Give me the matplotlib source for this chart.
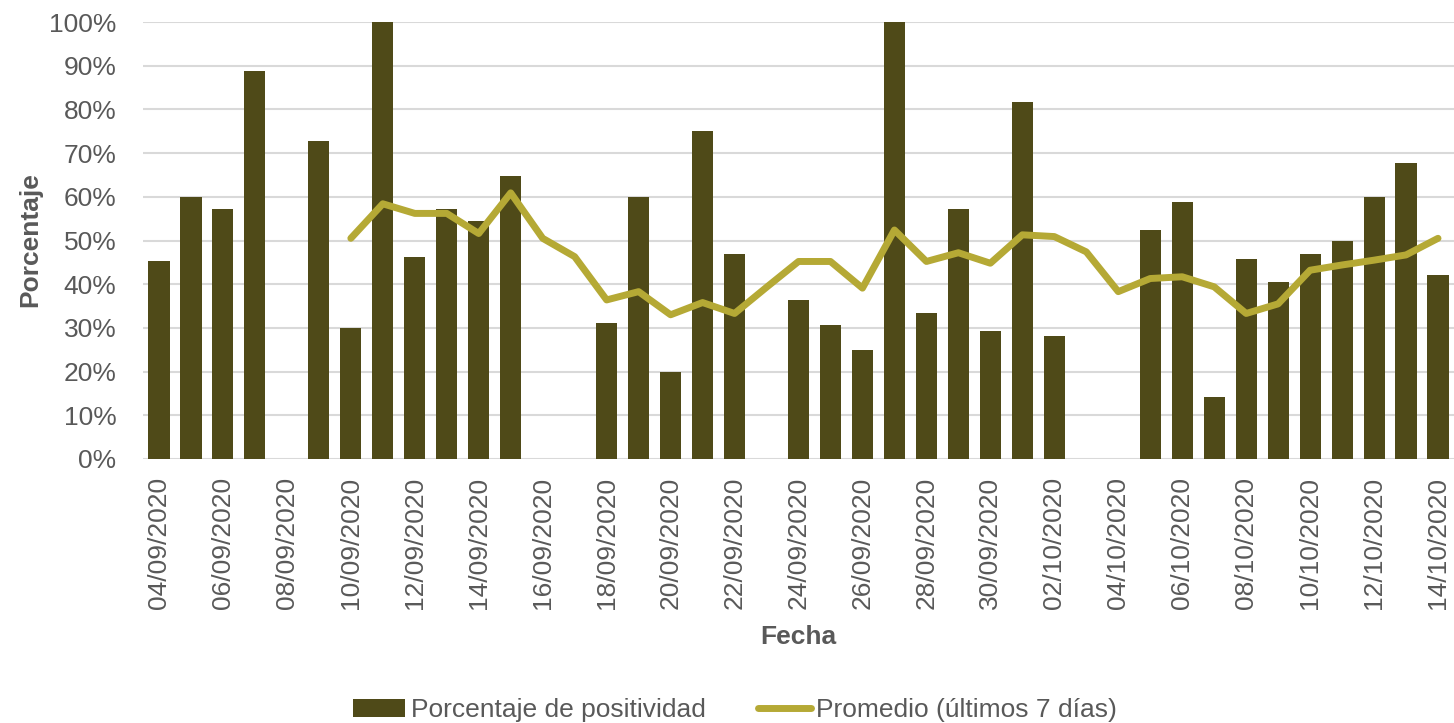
import matplotlib
matplotlib.use('Agg')
import matplotlib.pyplot as plt
import numpy as np
import pandas as pd

# daily categories 04/09/2020 .. 14/10/2020
fechas = pd.date_range('2020-09-04', '2020-10-14', freq='D')
etiquetas = [d.strftime('%d/%m/%Y') for d in fechas]

# positivity (%) per day, nan = no bar
positividad = [45.4, 60.0, 57.1, 88.9, np.nan, 72.7, 30.0, 100.0, 46.2, 57.1,
               54.5, 64.7, np.nan, np.nan, 31.2, 60.0, 20.0, 75.0, 47.0, np.nan,
               36.3, 30.7, 25.0, 100.0, 33.3, 57.1, 29.4, 81.8, 28.1, np.nan,
               np.nan, 52.4, 58.8, 14.2, 45.8, 40.5, 47.0, 50.0, 60.0, 67.7,
               42.0]

# 7-day average (%)
promedio = [np.nan, np.nan, np.nan, np.nan, np.nan, np.nan, 50.5, 58.4, 56.2, 56.2,
            51.6, 60.9, 50.5, 46.3, 36.4, 38.3, 33.0, 35.8, 33.3, 39.3,
            45.2, 45.2, 39.1, 52.4, 45.2, 47.2, 44.8, 51.3, 50.9, 47.4,
            38.3, 41.3, 41.7, 39.4, 33.3, 35.5, 43.2, 44.4, 45.5, 46.7,
            50.5]

plt.rcParams['font.family'] = ['Liberation Sans', 'DejaVu Sans']
gris = '#595959'

fig = plt.figure(figsize=(14.54, 7.23), dpi=100)
ax = fig.add_axes([143 / 1454, 1 - 459 / 723, 1 - 143 / 1454, (459 - 22) / 723])

x = np.arange(len(etiquetas))
barras = ax.bar(x, np.array(positividad) / 100, width=0.66, color='#4f4a18',
                label='Porcentaje de positividad', zorder=2)
linea, = ax.plot(x, np.array(promedio) / 100, color='#b5a935', lw=5,
                 solid_capstyle='round', label='Promedio (últimos 7 días)', zorder=3)

ax.set_xlim(-0.5, len(etiquetas) - 0.5)
ax.set_ylim(0, 1.0)
ax.set_yticks(np.arange(0, 1.01, 0.1))
ax.set_yticklabels(['%d%%' % v for v in range(0, 101, 10)])
ax.set_xticks(x[::2])
ax.set_xticklabels(etiquetas[::2], rotation=90)
ax.tick_params(axis='both', length=0, labelsize=19, labelcolor=gris)
ax.tick_params(axis='x', pad=13)
ax.tick_params(axis='y', pad=19)

ax.grid(axis='y', color='#d9d9d9', lw=1.5, zorder=0)
ax.set_axisbelow(True)
for s in ax.spines.values():
    s.set_visible(False)

fig.text(798 / 1454, 1 - 637 / 723, 'Fecha', ha='center', va='center',
         fontsize=19, fontweight='bold', color=gris)
fig.text(30 / 1454, 1 - 240 / 723, 'Porcentaje', ha='center', va='center',
         rotation=90, fontsize=19, fontweight='bold', color=gris)

fig.legend([barras, linea], ['Porcentaje de positividad', 'Promedio (últimos 7 días)'],
           loc='center', bbox_to_anchor=(0.5055, 1 - 710 / 723), ncol=2,
           frameon=False, fontsize=19, handlelength=2.0, handletextpad=0.2,
           columnspacing=2.0, labelcolor=gris)

fig.savefig('out.png', dpi=100)
